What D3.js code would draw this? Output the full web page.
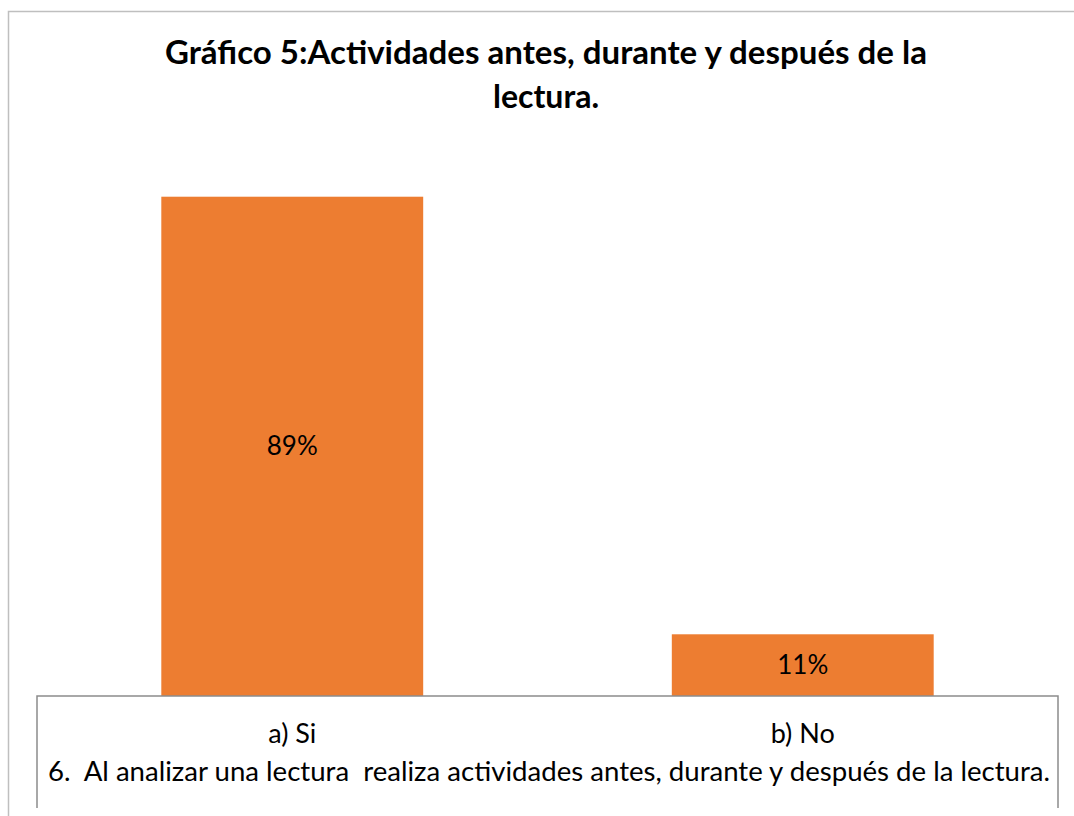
<!DOCTYPE html>
<html>
<head>
<meta charset="utf-8">
<script src="https://cdn.jsdelivr.net/npm/d3@7"></script>
<style>
  body { margin: 0; background: #fff; }
  svg { display: block; font-family: Lato, "Noto Sans", sans-serif; }
</style>
</head>
<body>
<svg id="chart" width="1074" height="816"></svg>
<script>
const categories = ["a) Si", "b) No"];
const values = [0.89, 0.11];
const titleLines = ["Gráfico 5:Actividades antes, durante y después de la", "lectura."];
const axisTitle = "6.  Al analizar una lectura  realiza actividades antes, durante y después de la lectura.";

const svg = d3.select("#chart");

// outer chart border (clipped on the right and bottom like the source)
svg.append("rect")
  .attr("x", 8.5).attr("y", 11.5)
  .attr("width", 1100).attr("height", 900)
  .attr("fill", "none")
  .attr("stroke", "#bfbfbf")
  .attr("stroke-width", 1.5);

const plot = { left: 37, right: 1058, top: 135, bottom: 696 };

const x = d3.scaleBand()
  .domain(categories)
  .range([plot.left, plot.right])
  .paddingInner(0.487)
  .paddingOuter(0.2435);

const y = d3.scaleLinear()
  .domain([0, 1])
  .range([plot.bottom, plot.top]);

// title
const title = svg.append("text")
  .attr("text-anchor", "middle")
  .attr("font-weight", "bold")
  .attr("font-size", 32)
  .attr("fill", "#000");

title.selectAll("tspan")
  .data(titleLines)
  .enter()
  .append("tspan")
  .attr("x", 546)
  .attr("y", (d, i) => 64 + i * 44)
  .text(d => d);

title.select("tspan").attr("textLength", 762).attr("lengthAdjust", "spacingAndGlyphs");

// bars
svg.selectAll(".bar")
  .data(values)
  .enter()
  .append("rect")
  .attr("class", "bar")
  .attr("x", (d, i) => x(categories[i]))
  .attr("width", x.bandwidth())
  .attr("y", d => y(d))
  .attr("height", d => y(0) - y(d))
  .attr("fill", "#ed7d31");

// data labels
svg.selectAll(".label")
  .data(values)
  .enter()
  .append("text")
  .attr("class", "label")
  .attr("text-anchor", "middle")
  .attr("font-size", 26)
  .attr("x", (d, i) => x(categories[i]) + x.bandwidth() / 2)
  .attr("y", d => (y(d) + y(0)) / 2 + 9)
  .text(d => Math.round(d * 100) + "%");

// category axis drawn as an open box
svg.append("path")
  .attr("d", `M${plot.left},808 V${plot.bottom} H${plot.right} V808`)
  .attr("fill", "none")
  .attr("stroke", "#8c8c8c")
  .attr("stroke-width", 1.5);

const xAxis = svg.append("g")
  .attr("transform", `translate(0,${plot.bottom})`)
  .call(d3.axisBottom(x).tickSize(0).tickPadding(0));

xAxis.select(".domain").remove();
xAxis.selectAll("text")
  .attr("y", 47)
  .attr("dy", 0)
  .style("font-family", "Lato, 'Noto Sans', sans-serif")
  .style("font-size", "27px")
  .style("fill", "#000");

svg.append("text")
  .attr("x", 48)
  .attr("y", 781)
  .attr("font-size", 27)
  .attr("textLength", 1002)
  .attr("lengthAdjust", "spacingAndGlyphs")
  .style("white-space", "pre")
  .text(axisTitle);
</script>
</body>
</html>
